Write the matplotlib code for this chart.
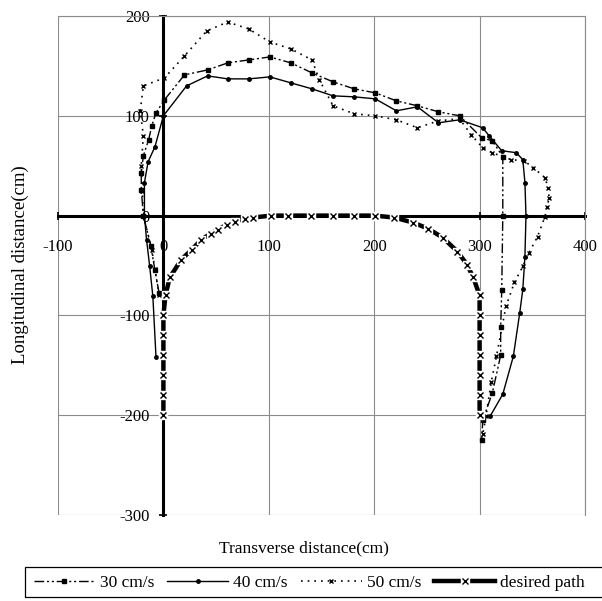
import matplotlib
matplotlib.use("Agg")
import matplotlib.pyplot as plt
from matplotlib.lines import Line2D
from matplotlib.patches import Rectangle

plt.rcParams['font.family'] = ['Liberation Serif', 'DejaVu Serif']
plt.rcParams['axes.unicode_minus'] = False

# trajectory at 30 cm/s
x30 = [-4, -8, -12, -19, -21, -21, -19, -14, -11, -7, 1, 20, 42, 61, 81, 101, 121, 141,
       161, 181, 201, 221, 241, 261, 281, 302, 312, 322, 322, 321, 320, 320, 312, 303, 302]
y30 = [-78, -55, -30, 0, 26, 43, 60, 76, 90, 103, 116, 141, 146, 153, 156, 159, 153, 143,
       134, 127, 123, 115, 110, 104, 100, 78, 75, 59, 0, -75, -112, -140, -178, -205, -225]

# trajectory at 40 cm/s
x40 = [-7, -10, -13, -16, -18, -18, -14.5, -8, 0, 22, 42, 61, 81, 101, 121, 141, 161, 181,
       201, 221, 241, 261, 281, 303, 309, 321, 335, 341, 343, 344, 343, 341, 338, 332, 322, 310]
y40 = [-142, -81, -51, -24, 0, 33, 54, 69, 100, 130, 140, 137, 137, 139, 133, 127, 120, 119,
       117, 105, 109, 93, 96, 88, 80, 65, 63, 56, 33, 0, -41, -74, -98, -141, -179, -201]

# trajectory at 50 cm/s
x50 = [-4, -8, -11, -19, -20, -21, -19, -22, -19, 1, 20, 41, 61, 81, 101, 121, 141, 148,
       161, 181, 201, 221, 241, 261, 281, 292, 303, 312, 330, 342, 351, 362, 365, 366, 364,
       362, 355, 347, 341, 333, 325, 316, 311, 306, 303]
y50 = [-80, -54, -34, 0, 25, 50, 80, 105, 130, 138, 160, 185, 194, 187, 174, 167, 156, 136,
       110, 102, 100, 96, 88, 95, 97, 81, 68, 63, 56, 55, 48, 38, 28, 18, 9,
       -1, -21, -37, -51, -67, -91, -141, -167, -201, -219]

# desired path
xd = [0, 0, 0, 0, 0, 0, 2, 6, 17, 27, 36, 45, 52, 60, 68, 77, 85, 102, 118, 140, 161, 181,
      201, 219, 237, 251, 265, 279, 288, 294, 300, 300, 300, 300, 300, 300, 300]
yd = [-200, -180, -160, -140, -120, -100, -80, -62, -44, -34, -24, -18, -14, -9, -6, -3, -2,
      0, 0, 0, 0, 0, 0, -2, -7, -13, -22, -36, -49, -62, -80, -100, -120, -140, -160, -180, -200]

xticks = [-100, 0, 100, 200, 300, 400]
yticks = [-300, -200, -100, 0, 100, 200]

fig = plt.figure(figsize=(6.02, 6.01), dpi=100)
ax = fig.add_axes([58 / 602, 86 / 601, 527 / 602, 499 / 601])

ax.set_xlim(-100, 400)
ax.set_ylim(-300, 200)
ax.set_xticks(xticks)
ax.set_yticks(yticks)
ax.grid(True, color='0.55', lw=0.8)
ax.set_axisbelow(True)

for side in ['top', 'right']:
    ax.spines[side].set_color('0.55')
    ax.spines[side].set_linewidth(0.8)
ax.spines['left'].set_position(('data', 0))
ax.spines['bottom'].set_position(('data', 0))
ax.spines['left'].set_linewidth(2.2)
ax.spines['bottom'].set_linewidth(2.2)
ax.spines['left'].set_zorder(1.5)
ax.spines['bottom'].set_zorder(1.5)

ax.tick_params(axis='x', direction='inout', length=6, width=1.2, pad=14, labelsize=12)
ax.tick_params(axis='y', direction='inout', length=6, width=1.2, pad=7, labelsize=12)

l30, = ax.plot(x30, y30, color='black', lw=1, linestyle=(0, (7, 2, 1.5, 2, 1.5, 2)),
               marker='s', ms=2.5, zorder=3)
l40, = ax.plot(x40, y40, color='black', lw=1, marker='o', ms=2.5, zorder=3)
l50, = ax.plot(x50, y50, color='black', lw=1.2, linestyle=(0, (1, 3)),
               marker='x', ms=3, mew=1, zorder=3)

# desired path: thick line, white gap and x marker on every point
ax.plot(xd, yd, color='black', lw=3.2, solid_capstyle='butt', zorder=4)
ax.plot(xd, yd, linestyle='none', marker='s', ms=6, color='white', zorder=5)
ax.plot(xd, yd, linestyle='none', marker='x', ms=5, mew=1, color='black', zorder=6)

fig.text(20 / 602, 1 - 265 / 601, 'Longitudinal distance(cm)', rotation=90,
         ha='center', va='center', fontsize=13.5)
fig.text(304 / 602, 1 - 548 / 601, 'Transverse distance(cm)',
         ha='center', va='center', fontsize=12.5)

dp_line = Line2D([], [], color='black', lw=3.2)
dp_gap = Line2D([], [], linestyle='none', marker='s', ms=6, color='white')
dp_mark = Line2D([], [], linestyle='none', marker='x', ms=5, mew=1, color='black')

leg = fig.legend([l30, l40, l50, (dp_line, dp_gap, dp_mark)],
                 ['30 cm/s', '40 cm/s', '50 cm/s', 'desired path'],
                 loc='center left', bbox_to_anchor=(34 / 602, 1 - 583 / 601),
                 ncol=4, fontsize=12.5, handlelength=3.5, handletextpad=0.3,
                 columnspacing=0.75, borderpad=0, borderaxespad=0, frameon=False)

# legend box, running off the right edge as in the original
fig.patches.append(Rectangle((25 / 602, 4 / 601), 600 / 602, 30 / 601,
                             transform=fig.transFigure, fill=False,
                             edgecolor='black', lw=0.9))

fig.savefig('out.png', dpi=100)
